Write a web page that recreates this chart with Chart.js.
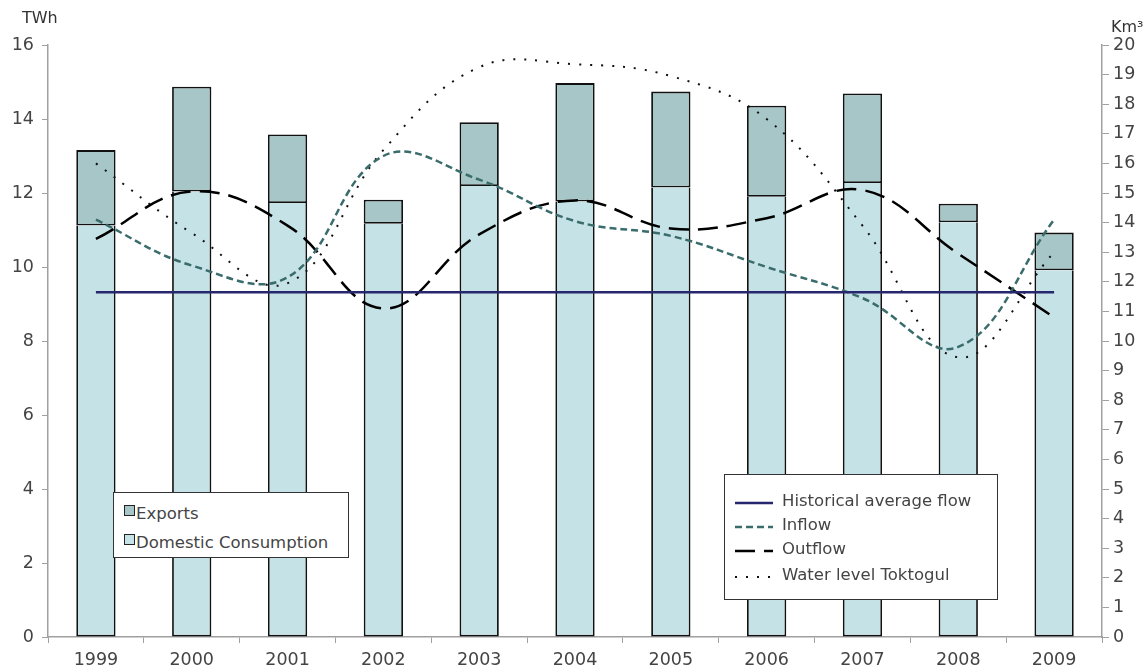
<!DOCTYPE html>
<html>
<head>
<meta charset="utf-8">
<script src="https://cdn.jsdelivr.net/npm/chart.js@4"></script>
<style>
  body { margin: 0; background: #fff; }
  #wrap { position: relative; width: 1148px; height: 671px; }
  .legend { position: absolute; background: #fff; border: 1.5px solid #333; box-sizing: border-box;
            font-family: "DejaVu Sans", sans-serif; color: #444; }
  .legend .item { position: absolute; white-space: nowrap; }
  .sq { display: inline-block; width: 9px; height: 9px; border: 1.5px solid #222; vertical-align: top; margin-right: 1px; margin-top: 1px; }
  .axisTitle { position: absolute; font-family: "DejaVu Sans", sans-serif; font-size: 16px; color: #333; }
</style>
</head>
<body>
<div id="wrap">
  <canvas id="chart" width="1148" height="671"></canvas>
  <div class="axisTitle" style="left:22px; top:8px;">TWh</div>
  <div class="axisTitle" style="left:1111px; top:17px;">Km³</div>

  <div class="legend" id="barLegend" style="left:113px; top:492px; width:236px; height:66px; font-size:16.5px;">
    <div class="item" style="left:10px; top:11px;"><span class="sq" style="background:#a7c6c7"></span>Exports</div>
    <div class="item" style="left:10px; top:40px;"><span class="sq" style="background:#c5e2e6"></span>Domestic Consumption</div>
  </div>

  <div class="legend" id="lineLegend" style="left:724px; top:474px; width:274px; height:126px; font-size:16.5px;">
    <canvas id="legendSamples" width="50" height="120" style="position:absolute; left:8px; top:0;"></canvas>
    <div class="item" style="left:57px; top:16px;">Historical average flow</div>
    <div class="item" style="left:57px; top:40px;">Inflow</div>
    <div class="item" style="left:57px; top:64px;">Outflow</div>
    <div class="item" style="left:57px; top:90px;">Water level Toktogul</div>
  </div>
</div>
<script>
const years = ['1999', '2000', '2001', '2002', '2003', '2004', '2005', '2006', '2007', '2008', '2009'];

// TWh (left axis)
const domestic = [11.12, 12.04, 11.73, 11.17, 12.19, 11.77, 12.15, 11.90, 12.27, 11.21, 9.91];
const exportsTWh = [2.04, 2.83, 1.85, 0.65, 1.72, 3.20, 2.59, 2.46, 2.42, 0.50, 1.02];

// Km3 (right axis)
const historicalFlow = [11.65, 11.65, 11.65, 11.65, 11.65, 11.65, 11.65, 11.65, 11.65, 11.65, 11.65];
const inflow = [14.1, 12.55, 12.15, 16.25, 15.45, 14.05, 13.55, 12.5, 11.45, 9.8, 14.1];
const outflow = [13.45, 15.05, 13.9, 11.1, 13.6, 14.75, 13.8, 14.15, 15.1, 12.95, 10.8];
const waterLevel = [16.0, 13.65, 11.95, 16.45, 19.25, 19.35, 18.95, 17.5, 13.9, 9.45, 13.0];

const domesticColor = '#c5e2e6';
const exportsColor = '#a7c6c7';
const histColor = '#27276e';
const inflowColor = '#3a6c6c';
const axisColor = '#a0a0a0';
const tickFont = { family: 'DejaVu Sans', size: 17.5 };

new Chart(document.getElementById('chart'), {
  data: {
    labels: years,
    datasets: [
      {
        type: 'line', label: 'Historical average flow', data: historicalFlow, yAxisID: 'y2',
        borderColor: histColor, borderWidth: 2.5, pointRadius: 0, order: 0
      },
      {
        type: 'line', label: 'Inflow', data: inflow, yAxisID: 'y2',
        borderColor: inflowColor, borderWidth: 2.5, borderDash: [7, 4], pointRadius: 0, tension: 0.4, order: 0
      },
      {
        type: 'line', label: 'Outflow', data: outflow, yAxisID: 'y2',
        borderColor: '#000', borderWidth: 2.5, borderDash: [20, 9], pointRadius: 0, tension: 0.4, order: 0
      },
      {
        type: 'line', label: 'Water level Toktogul', data: waterLevel, yAxisID: 'y2',
        borderColor: '#111', borderWidth: 2, borderDash: [2, 9], pointRadius: 0, tension: 0.4, order: 0
      },
      {
        type: 'bar', label: 'Domestic Consumption', data: domestic, yAxisID: 'y',
        backgroundColor: domesticColor, borderColor: '#111', borderWidth: 1.8, borderSkipped: 'top',
        barPercentage: 0.41, categoryPercentage: 1, order: 1
      },
      {
        type: 'bar', label: 'Exports', data: exportsTWh, yAxisID: 'y',
        backgroundColor: exportsColor, borderColor: '#111', borderWidth: 1.8, borderSkipped: false,
        barPercentage: 0.41, categoryPercentage: 1, order: 1
      }
    ]
  },
  options: {
    responsive: false,
    animation: false,
    layout: { padding: { top: 45, right: 0, left: 0, bottom: 0 } },
    plugins: { legend: { display: false }, tooltip: { enabled: false } },
    scales: {
      x: {
        stacked: true,
        grid: { display: true, drawOnChartArea: false, offset: true, color: axisColor, tickLength: 6 },
        border: { color: axisColor, width: 1.5 },
        ticks: { color: '#444', font: tickFont, padding: 7, maxRotation: 0 },
        afterFit: s => { s.height = 34; }
      },
      y: {
        stacked: true, position: 'left', min: 0, max: 16,
        grid: { drawOnChartArea: false, color: axisColor, tickLength: 6 },
        border: { color: axisColor, width: 1.5 },
        ticks: { stepSize: 2, color: '#444', font: tickFont, padding: 8 },
        afterFit: s => { s.width = 48; }
      },
      y2: {
        position: 'right', min: 0, max: 20,
        grid: { drawOnChartArea: false, color: axisColor, tickLength: 7 },
        border: { color: axisColor, width: 1.5 },
        ticks: { stepSize: 1, color: '#444', font: tickFont, padding: 4 },
        afterFit: s => { s.width = 46; }
      }
    }
  }
});

// small line samples inside the line legend
const lg = document.getElementById('legendSamples').getContext('2d');
function sample(y, color, width, dash) {
  lg.beginPath();
  lg.setLineDash(dash);
  lg.strokeStyle = color;
  lg.lineWidth = width;
  lg.moveTo(2, y);
  lg.lineTo(40, y);
  lg.stroke();
}
sample(28, histColor, 2.5, []);
sample(52, inflowColor, 2.5, [7, 4]);
sample(76, '#000', 2.5, [20, 9]);
sample(102, '#111', 2, [2, 9]);
</script>
</body>
</html>
